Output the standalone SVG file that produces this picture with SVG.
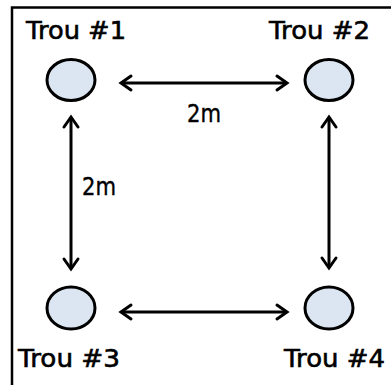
<svg xmlns="http://www.w3.org/2000/svg" width="391" height="385" viewBox="0 0 391 385">
<style>
.hole{fill:#dce6f2;stroke:#000;stroke-width:3}
.lbl{font-family:"DejaVu Sans",sans-serif;font-size:25px;fill:#000;stroke:#000;stroke-width:0.6}
.dim{font-family:"DejaVu Sans",sans-serif;font-size:25px;fill:#000;stroke:#000;stroke-width:0.4}
.conn{stroke:#000;stroke-width:3;fill:none}
</style>
<defs>
<marker id="ah" markerUnits="userSpaceOnUse" markerWidth="20" markerHeight="20" viewBox="-14 -10 18 20" refX="0" refY="0" orient="auto-start-reverse">
<path d="M -10,-7 L 0,0 L -10,7" fill="none" stroke="#000" stroke-width="3" stroke-linecap="round" stroke-linejoin="miter"/>
</marker>
</defs>
<rect width="391" height="385" fill="#fff"/>
<g id="frame">
<path d="M 12,395 L 12,7.5 L 400,7.5" fill="none" stroke="#000" stroke-width="2.5"/>
</g>
<g id="connectors">
<line class="conn" x1="121" y1="83" x2="287" y2="83" marker-start="url(#ah)" marker-end="url(#ah)"/>
<line class="conn" x1="121" y1="312" x2="287" y2="312" marker-start="url(#ah)" marker-end="url(#ah)"/>
<line class="conn" x1="71" y1="117" x2="71" y2="269" marker-start="url(#ah)" marker-end="url(#ah)"/>
<line class="conn" x1="329" y1="117" x2="329" y2="268" marker-start="url(#ah)" marker-end="url(#ah)"/>
<text class="dim" x="187" y="122" textLength="34" lengthAdjust="spacingAndGlyphs">2m</text>
<text class="dim" x="82" y="195" textLength="34" lengthAdjust="spacingAndGlyphs">2m</text>
</g>
<g id="trou1">
<ellipse class="hole" cx="71" cy="80" rx="24" ry="20.5"/>
<text class="lbl" x="26" y="39" textLength="100" lengthAdjust="spacingAndGlyphs">Trou #1</text>
</g>
<g id="trou2">
<ellipse class="hole" cx="329" cy="80" rx="24" ry="20.5"/>
<text class="lbl" x="269" y="39" textLength="101" lengthAdjust="spacingAndGlyphs">Trou #2</text>
</g>
<g id="trou3">
<ellipse class="hole" cx="71" cy="308" rx="24" ry="21"/>
<text class="lbl" x="18" y="367" textLength="102" lengthAdjust="spacingAndGlyphs">Trou #3</text>
</g>
<g id="trou4">
<ellipse class="hole" cx="329" cy="308" rx="24" ry="21"/>
<text class="lbl" x="284" y="367" textLength="101" lengthAdjust="spacingAndGlyphs">Trou #4</text>
</g>
</svg>
